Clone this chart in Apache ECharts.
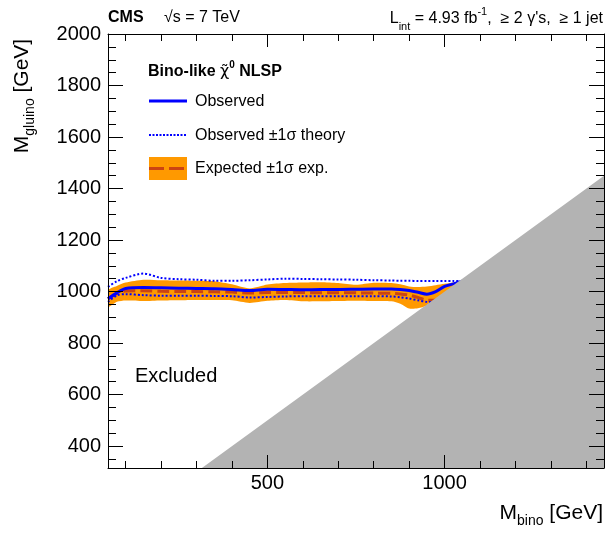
<!DOCTYPE html>
<html>
<head>
<meta charset="utf-8">
<script src="https://cdn.jsdelivr.net/npm/echarts@6/dist/echarts.min.js"></script>
<style>
  html, body { margin: 0; padding: 0; background: #fff; }
  #chart { width: 607px; height: 534px; }
</style>
</head>
<body>
<div id="chart"></div>
<script>
// Bino mass points (GeV) on which the limit contours are sampled
const binoMass = [50, 75, 100, 150, 200, 250, 300, 350, 400, 450, 500, 550, 600, 650, 700,
                  750, 800, 850, 875, 900, 925, 950, 975, 1000, 1025, 1050];

// Observed 95% CL limit on the gluino mass (GeV)
const observed = [972, 995, 1012, 1016, 1015, 1013, 1012, 1011, 1008, 1004, 1009, 1008, 1007, 1008, 1008,
                  1009, 1010, 1010, 1008, 1004, 997, 990, 1000, 1020, 1030, 1040];
// Observed limit shifted by +/-1 sigma of the theory cross section
const theoryUp = [1018, 1040, 1053, 1070, 1053, 1048, 1046, 1042, 1042, 1044, 1047, 1050, 1049, 1048, 1047,
                  1046, 1044, 1043, 1042, 1042, 1041, 1041, 1041, 1041, 1041, 1041];
const theoryDown = [960, 985, 990, 986, 984, 984, 984, 983, 982, 977, 979, 981, 982, 982, 982,
                    982, 982, 981, 978, 973, 966, 960, 958, 960, 965, 975];
// Expected limit and its +/-1 sigma experimental band
const expected = [972, 992, 1002, 1003, 1001, 1000, 1000, 999, 998, 994, 996, 996, 996, 995, 995,
                  995, 994, 993, 991, 986, 977, 967, 966, 970, 980, 990];
const expUp = [1005, 1022, 1035, 1046, 1044, 1043, 1042, 1040, 1028, 1012, 1027, 1033, 1035, 1036, 1033,
               1026, 1034, 1033, 1028, 1020, 1018, 1020, 1025, 1030, 1035, 1040];
const expDown = [940, 960, 965, 963, 965, 966, 967, 967, 966, 956, 964, 967, 962, 962, 963,
                 964, 963, 962, 953, 934, 935, 945, 955, 965, 975, 985];

// Kinematically forbidden region: M_gluino < M_bino
const diagonalMass = [0, 2000];

// Axis ranges and tick marks
const xRange = [50, 1450];
const yRange = [315, 2000];
const xMajorTicks = [500, 1000];
const xMinorTicks = [100, 200, 300, 400, 600, 700, 800, 900, 1100, 1200, 1300, 1400];
const yMajorTicks = [400, 600, 800, 1000, 1200, 1400, 1600, 1800, 2000];
const yMinorTicks = [350, 450, 500, 550, 650, 700, 750, 850, 900, 950, 1050, 1100, 1150, 1250, 1300, 1350,
                     1450, 1500, 1550, 1650, 1700, 1750, 1850, 1900, 1950];

const FONT = 'Liberation Sans, Arial, Helvetica, sans-serif';
const BLUE = '#0000ff';
const ORANGE = '#ff9900';
const EXP_LINE = '#cc4411';
const GRAY = '#b3b3b3';

const pairs = (ys) => binoMass.map((m, i) => [m, ys[i]]);
const plainNumber = (v) => String(v);

function makeX(position, ticks, len, showLine, labels) {
  return {
    type: 'value', position, min: xRange[0], max: xRange[1], z: 10,
    axisLine: { show: showLine, onZero: false, lineStyle: { color: '#000', width: 1 } },
    axisTick: { show: true, inside: true, length: len, customValues: ticks, lineStyle: { color: '#000', width: 1 } },
    axisLabel: labels
      ? { show: true, customValues: ticks, formatter: plainNumber, fontSize: 20, fontFamily: FONT, color: '#000', margin: 5 }
      : { show: false },
    splitLine: { show: false }
  };
}
function makeY(position, ticks, len, showLine, labels) {
  return {
    type: 'value', position, min: yRange[0], max: yRange[1], z: 10,
    axisLine: { show: showLine, onZero: false, lineStyle: { color: '#000', width: 1 } },
    axisTick: { show: true, inside: true, length: len, customValues: ticks, lineStyle: { color: '#000', width: 1 } },
    axisLabel: labels
      ? { show: true, customValues: ticks, formatter: plainNumber, fontSize: 20, fontFamily: FONT, color: '#000', margin: 7 }
      : { show: false },
    splitLine: { show: false }
  };
}

const lineSeries = (name, ys, style, z) => ({
  name, type: 'line', data: pairs(ys), xAxisIndex: 0, yAxisIndex: 0,
  showSymbol: false, smooth: 0.3, clip: true, z, silent: true,
  lineStyle: style
});

const chart = echarts.init(document.getElementById('chart'), null, { renderer: 'canvas' });

chart.setOption({
  animation: false,
  backgroundColor: '#fff',
  grid: { left: 108, right: 3, top: 34, bottom: 66, containLabel: false },
  xAxis: [
    makeX('bottom', xMajorTicks, 13, true, true),
    makeX('bottom', xMinorTicks, 7, false, false),
    makeX('top', xMajorTicks, 13, true, false),
    makeX('top', xMinorTicks, 7, false, false)
  ],
  yAxis: [
    makeY('left', yMajorTicks, 15, true, true),
    makeY('left', yMinorTicks, 8, false, false),
    makeY('right', yMajorTicks, 15, true, false),
    makeY('right', yMinorTicks, 8, false, false)
  ],
  series: [
    {
      name: 'Expected band', type: 'custom', xAxisIndex: 0, yAxisIndex: 0,
      data: [0], clip: true, z: 1, silent: true,
      renderItem: (params, api) => {
        const pts = [];
        for (let i = 0; i < binoMass.length; i++) pts.push(api.coord([binoMass[i], expUp[i]]));
        for (let i = binoMass.length - 1; i >= 0; i--) pts.push(api.coord([binoMass[i], expDown[i]]));
        return { type: 'polygon', shape: { points: pts, smooth: 0.25 }, style: { fill: ORANGE } };
      }
    },
    lineSeries('Expected', expected, { color: EXP_LINE, width: 3, type: [12, 5] }, 2),
    lineSeries('Theory up', theoryUp, { color: BLUE, width: 2, type: [2, 2] }, 3),
    lineSeries('Theory down', theoryDown, { color: BLUE, width: 2, type: [2, 2] }, 3),
    lineSeries('Observed', observed, { color: BLUE, width: 3 }, 4),
    {
      name: 'Forbidden', type: 'line', xAxisIndex: 0, yAxisIndex: 0,
      data: diagonalMass.map(m => [m, m]), showSymbol: false, clip: true, z: 5, silent: true,
      lineStyle: { width: 0, color: GRAY },
      areaStyle: { color: GRAY, opacity: 1, origin: 'start' }
    }
  ],
  graphic: [
    // header
    { type: 'text', left: 108, top: 10, z: 20,
      style: { text: 'CMS', font: 'bold 16px ' + FONT, fill: '#000' } },
    { type: 'text', left: 164, top: 10, z: 20,
      style: { text: '√s = 7 TeV', font: '16px ' + FONT, fill: '#000' } },
    { type: 'text', right: 4, top: 6, z: 20,
      style: {
        text: '{m|L}{sub|int}{m| = 4.93 fb}{sup|-1}{m|,  ≥ 2 γ\'s,  ≥ 1 jet}',
        rich: {
          m: { fontSize: 16, fontFamily: FONT, lineHeight: 26, fill: '#000' },
          sub: { fontSize: 11, fontFamily: FONT, lineHeight: 11, verticalAlign: 'bottom', fill: '#000' },
          sup: { fontSize: 11, fontFamily: FONT, lineHeight: 11, verticalAlign: 'top', fill: '#000' }
        }
      } },
    // axis titles
    { type: 'text', x: 22, y: 96, rotation: Math.PI / 2, z: 20,
      style: {
        text: '{m|M}{sub|gluino}{m| [GeV]}', align: 'center', verticalAlign: 'middle',
        rich: {
          m: { fontSize: 21, fontFamily: FONT, lineHeight: 30, fill: '#000' },
          sub: { fontSize: 14, fontFamily: FONT, lineHeight: 14, verticalAlign: 'bottom', fill: '#000' }
        }
      } },
    { type: 'text', right: 4, top: 503, z: 20,
      style: {
        text: '{m|M}{sub|bino}{m| [GeV]}',
        rich: {
          m: { fontSize: 21, fontFamily: FONT, lineHeight: 30, fill: '#000' },
          sub: { fontSize: 14, fontFamily: FONT, lineHeight: 14, verticalAlign: 'bottom', fill: '#000' }
        }
      } },
    // region label
    { type: 'text', left: 135, top: 366, z: 20,
      style: { text: 'Excluded', font: '20px ' + FONT, fill: '#000' } },
    // legend
    { type: 'text', left: 148, top: 60, z: 20,
      style: {
        text: '{b|Bino-like }{g|χ̃}{sup|0}{b| NLSP}',
        rich: {
          b: { fontSize: 16, fontWeight: 'bold', fontFamily: FONT, lineHeight: 24, fill: '#000' },
          g: { fontSize: 16, fontFamily: 'DejaVu Sans', lineHeight: 24, fill: '#000' },
          sup: { fontSize: 10, fontWeight: 'bold', fontFamily: FONT, lineHeight: 10, verticalAlign: 'top', fill: '#000' }
        }
      } },
    { type: 'line', z: 20, shape: { x1: 149, y1: 101, x2: 187, y2: 101 },
      style: { stroke: BLUE, lineWidth: 3 } },
    { type: 'text', left: 195, top: 94, z: 20,
      style: { text: 'Observed', font: '16px ' + FONT, fill: '#000' } },
    { type: 'line', z: 20, shape: { x1: 149, y1: 135, x2: 187, y2: 135 },
      style: { stroke: BLUE, lineWidth: 2, lineDash: [2, 1.5] } },
    { type: 'text', left: 195, top: 128, z: 20,
      style: { text: 'Observed ±1σ theory', font: '16px ' + FONT, fill: '#000' } },
    { type: 'rect', z: 20, shape: { x: 149, y: 157, width: 38, height: 23 },
      style: { fill: ORANGE } },
    { type: 'line', z: 21, shape: { x1: 149, y1: 168.5, x2: 187, y2: 168.5 },
      style: { stroke: EXP_LINE, lineWidth: 3, lineDash: [15, 5] } },
    { type: 'text', left: 195, top: 161, z: 20,
      style: { text: 'Expected ±1σ exp.', font: '16px ' + FONT, fill: '#000' } }
  ]
});
</script>
</body>
</html>
